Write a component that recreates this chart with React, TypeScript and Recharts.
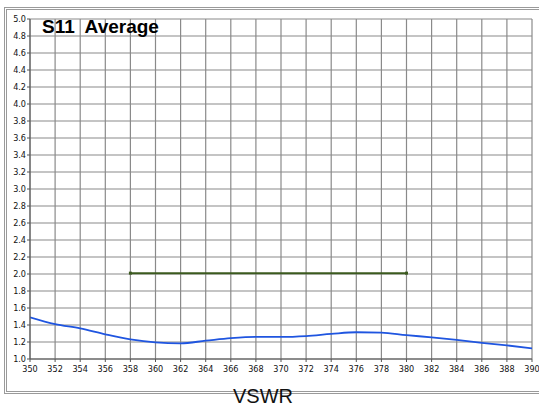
import React from "react";
import { LineChart, Line, XAxis, YAxis, CartesianGrid } from "recharts";

const freqs = [350, 352, 354, 356, 358, 360, 362, 364, 366, 368, 370, 372, 374, 376, 378, 380, 382, 384, 386, 388, 390];
const vswr = [1.49, 1.41, 1.36, 1.29, 1.23, 1.195, 1.185, 1.215, 1.245, 1.26, 1.26, 1.27, 1.295, 1.315, 1.31, 1.28, 1.255, 1.225, 1.19, 1.16, 1.125];
const limitFreqs = [358, 380];
const limitValues = [2.01, 2.01];
const xTicks = [350, 352, 354, 356, 358, 360, 362, 364, 366, 368, 370, 372, 374, 376, 378, 380, 382, 384, 386, 388, 390];
const yTicks = [1.0, 1.2, 1.4, 1.6, 1.8, 2.0, 2.2, 2.4, 2.6, 2.8, 3.0, 3.2, 3.4, 3.6, 3.8, 4.0, 4.2, 4.4, 4.6, 4.8, 5.0];

const data = freqs.map((f, i) => {
  const row: any = { f, v: vswr[i] };
  const li = limitFreqs.indexOf(f);
  if (li >= 0) row.lim = limitValues[li];
  return row;
});

const tickStyle = { fontSize: 9, fill: "#111", fontFamily: "'DejaVu Sans Condensed', 'DejaVu Sans', sans-serif" };

const SquareDot = (props: any) => {
  const { cx, cy } = props;
  if (cx == null || cy == null) return null;
  return <rect x={cx - 1.5} y={cy - 1.5} width={3} height={3} fill="#3b5a1e" />;
};

export default function App() {
  return (
    <div style={{ position: "absolute", left: 0, top: 0, width: 539, height: 408, background: "#fff", overflow: "hidden" }}>
      <div style={{ position: "absolute", left: 4, top: 7, width: 560, height: 381, borderLeft: "3px double #9a9a9a", borderTop: "3px double #9a9a9a", borderBottom: "3px double #9a9a9a" }} />
      <LineChart width={539} height={408} data={data} margin={{ top: 19, right: 7, left: 0, bottom: 0 }} style={{ position: "absolute", left: 0, top: 0 }}>
        <CartesianGrid stroke="#8a8a8a" strokeWidth={1.2} />
        <XAxis dataKey="f" type="number" domain={[350, 390]} ticks={xTicks} interval={0} height={49} tick={tickStyle} tickSize={3} stroke="#555" tickMargin={4} allowDataOverflow />
        <YAxis type="number" domain={[1, 5]} ticks={yTicks} interval={0} width={30} tick={tickStyle} tickSize={3} stroke="#555" tickMargin={1} tickFormatter={(v: number) => v.toFixed(1)} allowDataOverflow />
        <Line dataKey="v" stroke="#1f55e0" strokeWidth={1.8} dot={false} isAnimationActive={false} type="monotone" />
        <Line dataKey="lim" stroke="#3b5a1e" strokeWidth={2} dot={<SquareDot />} isAnimationActive={false} connectNulls />
      </LineChart>
      <div style={{ position: "absolute", left: 42, top: 16, fontFamily: "'Liberation Sans', Arial, sans-serif", fontWeight: "bold", fontSize: 19, whiteSpace: "pre", color: "#000" }}>S11  Average</div>
      <div style={{ position: "absolute", left: 0, width: 526, top: 385, textAlign: "center", fontFamily: "'Liberation Sans', Arial, sans-serif", fontSize: 20, lineHeight: "22px", color: "#111" }}>VSWR</div>
    </div>
  );
}
